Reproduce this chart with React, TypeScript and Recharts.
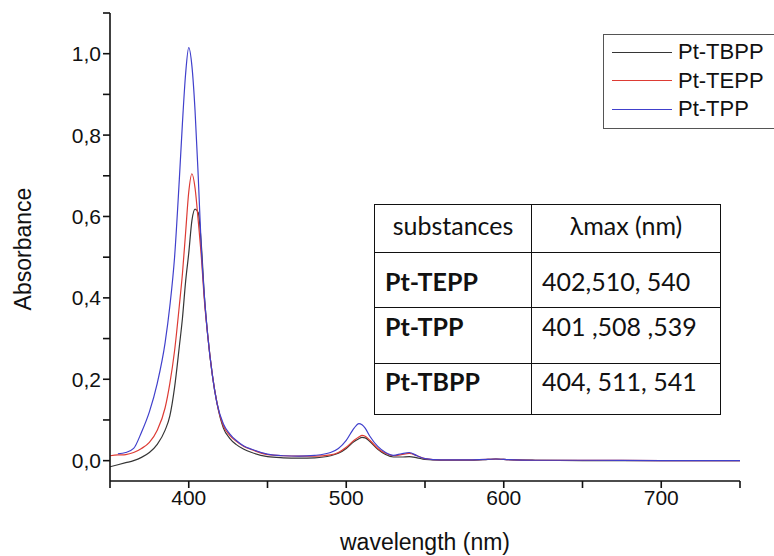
import { LineChart, Line, XAxis, YAxis, Label } from "recharts";

// wavelength grid (nm)
const wavelengths = [
  350, 355, 360, 365, 370, 375, 380, 385, 388, 391, 394, 396, 398, 400, 402, 404, 406, 408, 410,
  412, 415, 418, 422, 426, 430, 435, 440, 450, 460, 470, 480, 490, 495, 500, 505, 508, 510, 512,
  515, 520, 525, 530, 535, 540, 545, 550, 560, 580, 590, 595, 600, 620, 650, 700, 750,
];

const tbpp = [
  -0.015, -0.01, -0.005, 0.0, 0.008, 0.02, 0.04, 0.075, 0.11, 0.18, 0.28, 0.35, 0.44, 0.51, 0.59,
  0.618, 0.61, 0.53, 0.4, 0.31, 0.21, 0.14, 0.08, 0.055, 0.04, 0.028, 0.02, 0.01, 0.007, 0.006,
  0.007, 0.012, 0.018, 0.03, 0.047, 0.054, 0.057, 0.056, 0.047, 0.028, 0.015, 0.009, 0.009, 0.01,
  0.007, 0.003, 0.001, 0.001, 0.003, 0.004, 0.003, 0.001, 0.0, 0.0, 0.0,
];

const tepp = [
  0.012, 0.014, 0.015, 0.02, 0.03, 0.045, 0.075, 0.13, 0.19, 0.27, 0.38, 0.46, 0.56, 0.66, 0.705,
  0.67, 0.59, 0.5, 0.39, 0.31, 0.21, 0.14, 0.085, 0.062, 0.048, 0.035, 0.027, 0.015, 0.012, 0.011,
  0.011, 0.014, 0.02, 0.033, 0.05, 0.058, 0.062, 0.06, 0.05, 0.03, 0.018, 0.012, 0.015, 0.018,
  0.012, 0.005, 0.002, 0.002, 0.003, 0.004, 0.003, 0.001, 0.001, 0.0, 0.0,
];

const tpp = [
  null, 0.017, 0.02, 0.03, 0.07, 0.12, 0.19, 0.29, 0.38, 0.5, 0.69, 0.83, 0.95, 1.015, 0.97, 0.86,
  0.7, 0.52, 0.4, 0.31, 0.21, 0.14, 0.09, 0.066, 0.05, 0.036, 0.028, 0.016, 0.012, 0.011, 0.013,
  0.02, 0.03, 0.05, 0.08, 0.091, 0.088, 0.08, 0.06, 0.035, 0.02, 0.013, 0.017, 0.02, 0.012, 0.005,
  0.002, 0.002, 0.003, 0.004, 0.003, 0.001, 0.001, 0.0, 0.0,
];

const xTicks = [350, 400, 450, 500, 550, 600, 650, 700, 750];
const xLabeled = [400, 500, 600, 700];
const yTicks = [0, 0.1, 0.2, 0.3, 0.4, 0.5, 0.6, 0.7, 0.8, 0.9, 1.0, 1.1];
const yLabeled = [0, 0.2, 0.4, 0.6, 0.8, 1.0];

const seriesNames = ["Pt-TBPP", "Pt-TEPP", "Pt-TPP"];
const seriesColors = ["#363636", "#dd3b34", "#4040cc"];

const tableHeader = ["substances", "λmax (nm)"];
const tableRows = [
  ["Pt-TEPP", "402,510, 540"],
  ["Pt-TPP", "401 ,508 ,539"],
  ["Pt-TBPP", "404, 511, 541"],
];
// row heights and top paddings of the inset table
const rowHeights = [55, 56, 51];
const rowPads = [14, 4, 3];

const data = wavelengths.map((wl, i) => ({
  wl,
  tbpp: tbpp[i],
  tepp: tepp[i],
  tpp: tpp[i],
}));

const font = "'Liberation Sans', Arial, sans-serif";
const axisTick = { fill: "#111", fontSize: 21, fontFamily: font };

const LegendBox = () => (
  <div
    style={{
      position: "absolute",
      left: 603,
      top: 34,
      border: "1px solid #555",
      background: "#fff",
      width: 190,
      padding: "3px 0 4px 8px",
      fontFamily: font,
      fontSize: 22,
      color: "#111",
    }}
  >
    {seriesNames.map((name, i) => (
      <div key={name} style={{ display: "flex", alignItems: "center", height: 28.5 }}>
        <div style={{ width: 60, borderTop: `1px solid ${seriesColors[i]}`, marginRight: 6 }} />
        <span>{name}</span>
      </div>
    ))}
  </div>
);

const cell = {
  border: "1.5px solid #111",
  padding: "5px 10px",
  verticalAlign: "top" as const,
  lineHeight: "29px",
};

export default function App() {
  return (
    <div style={{ position: "absolute", left: 0, top: 0, width: 774, height: 556, overflow: "hidden", background: "#fff" }}>
      <LineChart width={774} height={556} data={data} margin={{ top: 13, right: 34, bottom: 0, left: 0 }}>
        <XAxis
          type="number"
          dataKey="wl"
          domain={[350, 750]}
          ticks={xTicks}
          tickFormatter={(v) => (xLabeled.includes(v) ? String(v) : "")}
          tick={axisTick}
          stroke="#111"
          strokeWidth={1.6}
          tickSize={7}
          height={75}
          allowDataOverflow
        >
          <Label
            value="wavelength (nm)"
            position="insideBottom"
            offset={6}
            style={{ fill: "#111", fontSize: 23, fontFamily: font }}
          />
        </XAxis>
        <YAxis
          type="number"
          domain={[-0.05, 1.1]}
          ticks={yTicks}
          tickFormatter={(v) => (yLabeled.some((t) => Math.abs(t - v) < 1e-6) ? v.toFixed(1).replace(".", ",") : "")}
          tick={axisTick}
          stroke="#111"
          strokeWidth={1.6}
          tickSize={7}
          width={110}
          allowDataOverflow
        >
          <Label
            content={() => (
              <text
                x={23}
                y={249}
                transform="rotate(-90 23 249)"
                textAnchor="middle"
                dominantBaseline="central"
                style={{ fill: "#111", fontSize: 23, fontFamily: font }}
              >
                Absorbance
              </text>
            )}
          />
        </YAxis>
        <Line type="monotone" dataKey="tbpp" name={seriesNames[0]} stroke={seriesColors[0]} strokeWidth={1.2} dot={false} isAnimationActive={false} />
        <Line type="monotone" dataKey="tepp" name={seriesNames[1]} stroke={seriesColors[1]} strokeWidth={1.2} dot={false} isAnimationActive={false} />
        <Line type="monotone" dataKey="tpp" name={seriesNames[2]} stroke={seriesColors[2]} strokeWidth={1.2} dot={false} isAnimationActive={false} />
      </LineChart>
      <LegendBox />
      <table
        style={{
          position: "absolute",
          left: 374,
          top: 204,
          width: 347,
          height: 211,
          borderCollapse: "collapse",
          background: "#fff",
          fontFamily: "Lato, 'Open Sans', sans-serif",
          fontSize: 25,
          color: "#111",
        }}
      >
        <tbody>
          <tr style={{ height: 48 }}>
            <td style={{ ...cell, width: 136, textAlign: "center", paddingTop: 6 }}>{tableHeader[0]}</td>
            <td style={{ ...cell, textAlign: "center", paddingTop: 6 }}>{tableHeader[1]}</td>
          </tr>
          {tableRows.map((r, i) => (
            <tr key={r[0]} style={{ height: rowHeights[i] }}>
              <td style={{ ...cell, fontWeight: 700, paddingTop: rowPads[i] }}>{r[0]}</td>
              <td style={{ ...cell, paddingTop: rowPads[i] }}>{r[1]}</td>
            </tr>
          ))}
        </tbody>
      </table>
    </div>
  );
}
